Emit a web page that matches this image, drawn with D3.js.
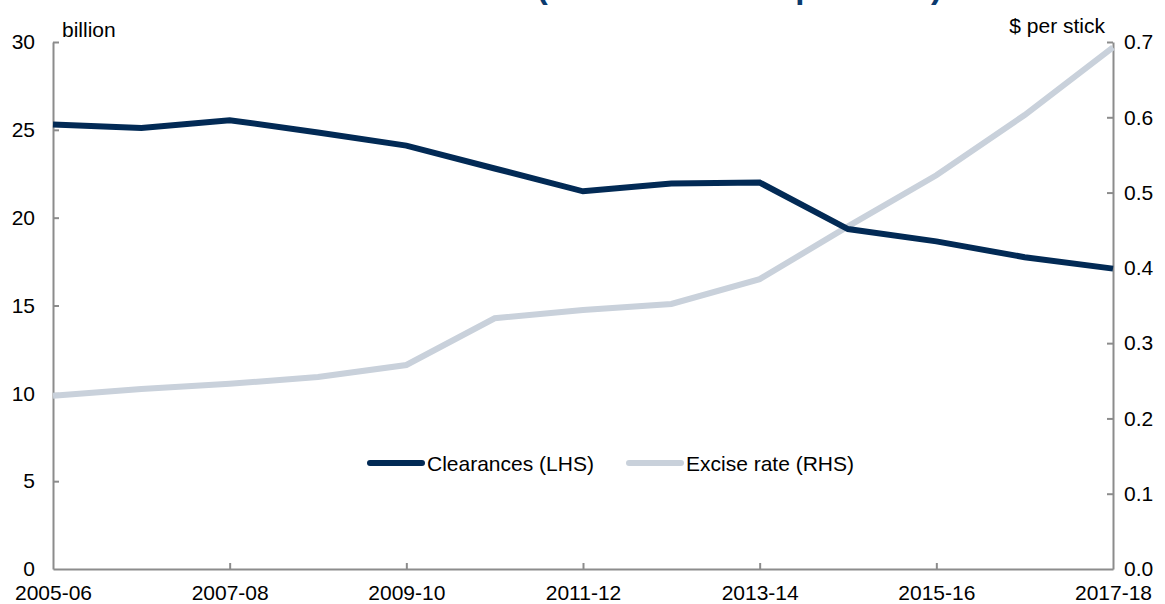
<!DOCTYPE html>
<html>
<head>
<meta charset="utf-8">
<script src="https://cdn.jsdelivr.net/npm/d3@7"></script>
<style>
  body { margin: 0; background: #fff; }
  svg { font-family: Arial, "Liberation Sans", sans-serif; display: block; }
  .axis path, .axis line { stroke: #8c8c8c; stroke-width: 2; }
  .axis text { font-size: 21px; fill: #000; }
</style>
</head>
<body>
<script>
const width = 1165;
const height = 604;

// data
const years = ["2005-06", "2006-07", "2007-08", "2008-09", "2009-10", "2010-11", "2011-12",
  "2012-13", "2013-14", "2014-15", "2015-16", "2016-17", "2017-18"];
const clearances = [25.3, 25.1, 25.55, 24.85, 24.1, 22.8, 21.5, 21.95, 22.0, 19.35, 18.65, 17.75, 17.1];
const exciseRate = [0.23, 0.239, 0.246, 0.255, 0.271, 0.333, 0.344, 0.352, 0.385, 0.455, 0.523, 0.603, 0.693];
const leftTicks = [0, 5, 10, 15, 20, 25, 30];
const rightTicks = [0, 0.1, 0.2, 0.3, 0.4, 0.5, 0.6, 0.7];
const xTickYears = ["2005-06", "2007-08", "2009-10", "2011-12", "2013-14", "2015-16", "2017-18"];

const margin = {top: 42, right: 52, bottom: 35, left: 53};

const svg = d3.select("body")
  .append("svg")
  .attr("width", width)
  .attr("height", height);

const x = d3.scalePoint().domain(years).range([margin.left, width - margin.right]);
const yL = d3.scaleLinear().domain([0, 30]).range([height - margin.bottom, margin.top]);
const yR = d3.scaleLinear().domain([0, 0.7]).range([height - margin.bottom, margin.top]);

// title, mostly cut off by the top edge in the reference (only descenders show)
svg.append("text")
  .attr("x", 942)
  .attr("y", -2)
  .attr("text-anchor", "end")
  .attr("font-size", 33)
  .attr("font-weight", "bold")
  .attr("fill", "#0b3a6e")
  .text("Tobacco clearances and excise rate (2017-18 dollars per stick)");

svg.append("g")
  .attr("class", "axis")
  .attr("transform", `translate(${margin.left},0)`)
  .call(d3.axisLeft(yL).tickValues(leftTicks).tickSizeInner(-6).tickSizeOuter(0).tickPadding(18));

svg.append("g")
  .attr("class", "axis")
  .attr("transform", `translate(${width - margin.right},0)`)
  .call(d3.axisRight(yR).tickValues(rightTicks).tickFormat(d3.format(".1f"))
    .tickSizeInner(-6).tickSizeOuter(0).tickPadding(11));

svg.append("g")
  .attr("class", "axis")
  .attr("transform", `translate(0,${height - margin.bottom})`)
  .call(d3.axisBottom(x).tickValues(xTickYears).tickSizeInner(-6).tickSizeOuter(0).tickPadding(16));

svg.selectAll(".axis .tick line").filter(d => d === 0 || d === "2005-06" || d === "2017-18").remove();

svg.append("text")
  .attr("x", 62).attr("y", 37)
  .attr("font-size", 21)
  .text("billion");

svg.append("text")
  .attr("x", 1105).attr("y", 33)
  .attr("text-anchor", "end")
  .attr("font-size", 21)
  .text("$ per stick");

const lineL = d3.line().x((d, i) => x(years[i])).y(d => yL(d));
const lineR = d3.line().x((d, i) => x(years[i])).y(d => yR(d));

svg.append("path")
  .datum(exciseRate)
  .attr("d", lineR)
  .attr("fill", "none")
  .attr("stroke", "#c9d1db")
  .attr("stroke-width", 6);

svg.append("path")
  .datum(clearances)
  .attr("d", lineL)
  .attr("fill", "none")
  .attr("stroke", "#022a55")
  .attr("stroke-width", 6);

// legend
const legend = [
  {name: "Clearances (LHS)", color: "#022a55", x: 368},
  {name: "Excise rate (RHS)", color: "#c9d1db", x: 627}
];
const lg = svg.selectAll("g.legend")
  .data(legend)
  .enter()
  .append("g")
  .attr("class", "legend")
  .attr("transform", d => `translate(${d.x},463)`);
lg.append("line")
  .attr("x1", 2).attr("x2", 54)
  .attr("stroke", d => d.color)
  .attr("stroke-width", 6)
  .attr("stroke-linecap", "round");
lg.append("text")
  .attr("x", 59).attr("y", 7.5)
  .attr("font-size", 21)
  .text(d => d.name);
</script>
</body>
</html>
